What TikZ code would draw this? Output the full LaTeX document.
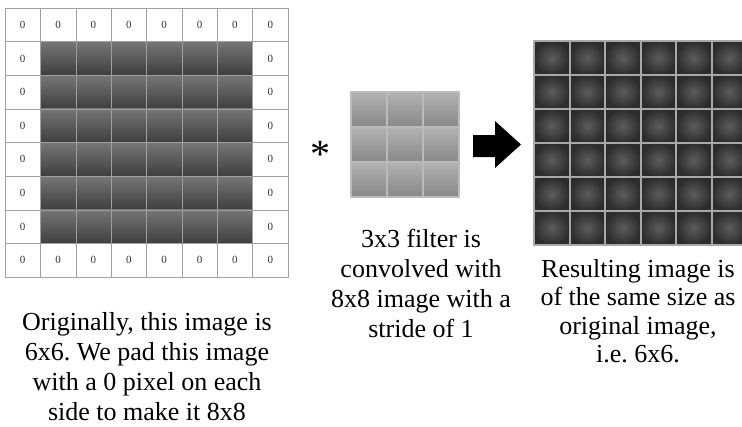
\documentclass[tikz,border=0pt]{standalone}
\usepackage{fontspec}
\setmainfont{Liberation Serif}
\frenchspacing
\definecolor{padline}{HTML}{A0A0A0}
\definecolor{imgtop}{HTML}{767676}
\definecolor{imgbot}{HTML}{3E3E3E}
\definecolor{filttop}{HTML}{B2B2B2}
\definecolor{filtbot}{HTML}{888888}
\definecolor{filtline}{HTML}{BBBBBB}
\definecolor{outin}{HTML}{5C5C5C}
\definecolor{outout}{HTML}{2C2C2C}
\definecolor{outline}{HTML}{A8A8A8}
\begin{document}
\begin{tikzpicture}[x=1pt, y=-1pt, font=\fontsize{26}{30}\selectfont, line join=round]
		\clip (0,0) rectangle (742,426);
		% padded 8x8 input
		\foreach \i in {0,...,7} \foreach \j in {0,...,7}
			\draw[padline, fill=white] ({5+35.375*\i},{8+33.625*\j}) rectangle +(35.375,33.625);
		\foreach \i in {1,...,6} \foreach \j in {1,...,6}
			\shadedraw[top color=imgtop, bottom color=imgbot, draw=padline] ({5+35.375*\i},{8+33.625*\j}) rectangle +(35.375,33.625);
		\foreach \k in {0,...,7} {
			\node[font=\fontsize{11}{12}\selectfont, text=black!80] (ztop\k) at ({22.7+35.375*\k},24.8) {0};
			\node[font=\fontsize{11}{12}\selectfont, text=black!80] (zbot\k) at ({22.7+35.375*\k},260.2) {0};
		}
		\foreach \k in {1,...,6} {
			\node[font=\fontsize{11}{12}\selectfont, text=black!80] (zleft\k) at (22.7,{24.8+33.625*\k}) {0};
			\node[font=\fontsize{11}{12}\selectfont, text=black!80] (zright\k) at (270.3,{24.8+33.625*\k}) {0};
		}
		% 3x3 filter
		\node[font=\fontsize{40}{40}\selectfont] (star) at (320,154) {*};
		\foreach \i in {0,1,2} \foreach \j in {0,1,2}
			\shadedraw[top color=filttop, bottom color=filtbot, draw=filtline, line width=1.2pt] ({351+36*\i},{92+35*\j}) rectangle +(36,35);
		\fill (473,135) -- (495,135) -- (495,121) -- (521,144.5) -- (495,168) -- (495,157) -- (473,157) -- cycle;
		% 6x6 output
		\foreach \i in {0,...,5} \foreach \j in {0,...,5}
			\shadedraw[inner color=outin, outer color=outout, draw=outline, line width=2pt] ({534+35.5*\i},{41+34*\j}) rectangle +(35.5,34);
		% captions
		\node[align=center, anchor=north, inner sep=0pt] (padtext) at (147,312) {Originally, this image is\\6x6. We pad this image\\with a 0 pixel on each\\side to make it 8x8};
		\node[align=center, anchor=north, inner sep=0pt] (filttext) at (421,229) {3x3 filter is\\convolved with\\8x8 image with a\\stride of 1};
		\node[align=center, anchor=north, inner sep=0pt, font=\fontsize{26}{28.5}\selectfont] (restext) at (638,259) {Resulting image is\\of the same size as\\original image,\\i.e. 6x6.};
\end{tikzpicture}
\end{document}
